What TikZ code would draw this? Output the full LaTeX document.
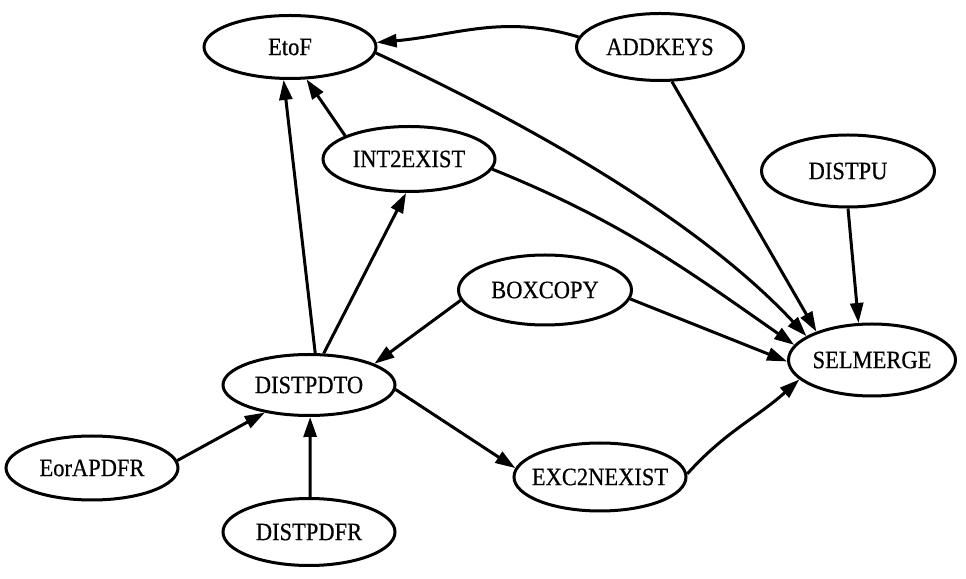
\documentclass[tikz,border=0pt]{standalone}
\usepackage{fontspec}
\setmainfont{Liberation Serif}[FakeStretch=0.9,FakeBold=0.5]
\usetikzlibrary{shapes.geometric,arrows.meta}
\begin{document}
\begin{tikzpicture}[x=1pt,y=1pt,
  nd/.style={draw, ellipse, line width=3pt, inner sep=0pt,
    minimum width=172pt, minimum height=66pt,
    font=\fontsize{25}{29}\selectfont},
  edge/.style={line width=3pt, -{Triangle[length=20pt,width=13pt]}}]
\useasboundingbox (0,0) rectangle (966,578);
\node[nd, minimum width=172pt, minimum height=63pt] (etof) at (290,531) {\makebox[0pt]{EtoF}};
\node[nd, minimum width=167pt, minimum height=67pt] (addkeys) at (660,531) {\makebox[0pt]{ADDKEYS}};
\node[nd, minimum width=172pt, minimum height=65pt] (int2) at (409,419) {\makebox[0pt]{INT2EXIST}};
\node[nd, minimum width=173pt, minimum height=72pt] (distpu) at (848,407) {\makebox[0pt]{DISTPU}};
\node[nd, minimum width=173pt, minimum height=70pt] (boxcopy) at (545,288) {\makebox[0pt]{BOXCOPY}};
\node[nd, minimum width=167pt, minimum height=72pt] (selmerge) at (872,218) {\makebox[0pt]{SELMERGE}};
\node[nd, minimum width=172pt, minimum height=61pt] (distpdto) at (309,193) {\makebox[0pt]{DISTPDTO}};
\node[nd, minimum width=172pt, minimum height=64pt] (eorapdfr) at (92,110) {\makebox[0pt]{EorAPDFR}};
\node[nd, minimum width=172pt, minimum height=68pt] (exc2) at (600,101) {\makebox[0pt]{EXC2NEXIST}};
\node[nd, minimum width=172pt, minimum height=67pt] (distpdfr) at (309,46) {\makebox[0pt]{DISTPDFR}};

\draw[edge] (addkeys.173) to[out=163,in=5] (etof.3);
\draw[edge] (etof.-4) to[out=-25,in=133,out looseness=1.2,in looseness=0.6] (selmerge.160);
\draw[edge] (int2.-7) to[out=-22,in=145] (selmerge.169);
\draw[edge] (addkeys.-71) -- (selmerge.153);
\draw[edge] (distpu.-90) -- (selmerge.110);
\draw[edge] (boxcopy.-6) -- (selmerge.181);
\draw[edge] (exc2.2) to[out=48,in=222] (selmerge.195);
\draw[edge] (int2.160) -- (etof.-63);
\draw[edge] (distpdto.79) -- (etof.-101);
\draw[edge] (distpdto.65) -- (int2.-95);
\draw[edge] (boxcopy.187) -- (distpdto.18);
\draw[edge] (distpdto.-3) -- (exc2.174);
\draw[edge] (eorapdfr.5) -- (distpdto.212);
\draw[edge] (distpdfr.88) -- (distpdto.-88);
\end{tikzpicture}
\end{document}
